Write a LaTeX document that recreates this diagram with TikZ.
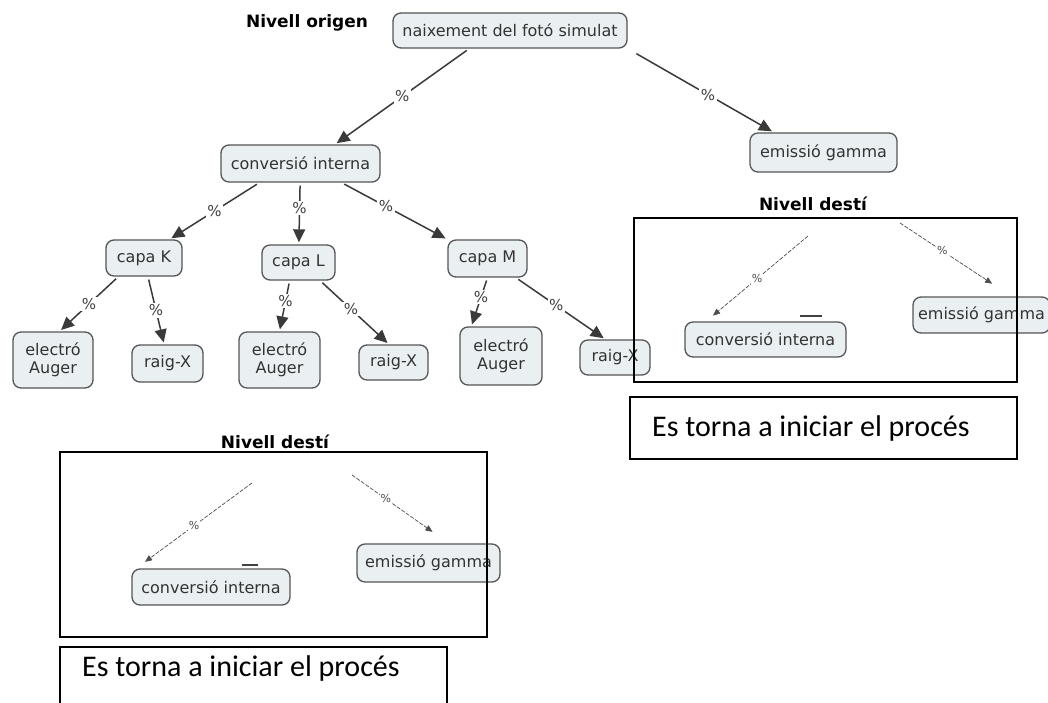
\documentclass[tikz,border=0pt]{standalone}
\usepackage{fontspec}
\newfontfamily\vf{DejaVu Sans}
\newfontfamily\clb{Carlito}
\usetikzlibrary{arrows.meta}
\definecolor{boxfill}{HTML}{EAF0F2}
\definecolor{boxline}{HTML}{555555}
\definecolor{edgecol}{HTML}{3A3A3A}
\tikzset{
  cmap/.style={draw=boxline, fill=boxfill, line width=1.3pt, rounded corners=8pt, inner sep=0pt, align=center, font=\vf\fontsize{16}{18}\selectfont, text=black!80},
  conn/.style={draw=edgecol, line width=1.5pt, -{Triangle[length=13pt,width=12pt]}, shorten <=3pt, shorten >=2pt},
  pct/.style={fill=white, inner sep=1.5pt, font=\vf\fontsize{15}{16}\selectfont, text=black!75},
  thinconn/.style={draw=black!70, line width=0.7pt, dash pattern=on 4pt off 1.5pt, -{Triangle[length=7pt,width=6pt]}},
  thinpct/.style={fill=white, inner sep=1pt, font=\vf\fontsize{11}{12}\selectfont, text=black!70},
  frame/.style={draw=black, line width=1.4pt, inner sep=0pt},
  lvltitle/.style={font=\vf\bfseries\fontsize{17}{19}\selectfont},
  restart/.style={font=\clb\fontsize{30}{33}\selectfont, anchor=base west, inner sep=0pt},
  tick/.style={line width=1.5pt, black!75}
}
\begin{document}
\begin{tikzpicture}[x=1pt,y=-1pt]
\useasboundingbox (0,0) rectangle (1048,703);
% titles
\node[lvltitle] (orig) at (307,23) {Nivell origen};
% main tree nodes
\node[cmap, minimum width=234pt, minimum height=35pt] (naix) at (510,30.5) {naixement del fotó simulat};
\node[cmap, minimum width=159pt, minimum height=37pt] (conv) at (300.5,163.5) {conversió interna};
\node[cmap, minimum width=147pt, minimum height=39pt] (gam) at (823.5,152.5) {emissió gamma};
\node[cmap, minimum width=76pt, minimum height=36pt] (capaK) at (144,258) {capa K};
\node[cmap, minimum width=73pt, minimum height=35pt] (capaL) at (298.5,262.5) {capa L};
\node[cmap, minimum width=79pt, minimum height=37pt] (capaM) at (487.5,258.5) {capa M};
\node[cmap, minimum width=80pt, minimum height=56pt] (augK) at (53,360) {electró\\Auger};
\node[cmap, minimum width=71pt, minimum height=37pt] (rxK) at (167.5,363.5) {raig-X};
\node[cmap, minimum width=81pt, minimum height=56pt] (augL) at (279.5,360) {electró\\Auger};
\node[cmap, minimum width=69pt, minimum height=35pt] (rxL) at (393.5,362.5) {raig-X};
\node[cmap, minimum width=82pt, minimum height=58pt] (augM) at (501,356) {electró\\Auger};
\node[cmap, minimum width=70pt, minimum height=35pt] (rxM) at (615,357.5) {raig-X};
% main connectors
\draw[conn] (naix.204.8) -- node[pct]{\%} (conv.29.7);
\draw[conn, shorten <=10pt] (naix.south east) -- node[pct, pos=0.55]{\%} (gam.158.4);
\draw[conn] (conv.205.7) -- node[pct]{\%} (capaK.36.9);
\draw[conn] (conv) -- node[pct, pos=0.41]{\%} (capaL);
\draw[conn] (conv.335.7) -- node[pct, pos=0.42]{\%} (capaM.north west);
\draw[conn] (capaK.216.9) -- node[pct]{\%} (augK.77.7);
\draw[conn] (capaK.282.5) -- node[pct]{\%} (rxK.100.7);
\draw[conn] (capaL.244.1) -- node[pct, pos=0.4]{\%} (augL.north);
\draw[conn] (capaL.320) -- node[pct, pos=0.45]{\%} (rxL.104.4);
\draw[conn] (capaM.south) -- node[pct, pos=0.4]{\%} (augM.135);
\draw[conn] (capaM.326.5) -- node[pct, pos=0.45]{\%} (rxM.118);
% right destination level
\node[lvltitle] (destR) at (813,204) {Nivell destí};
\node[cmap, minimum width=161pt, minimum height=35pt] (convR) at (765.5,339.5) {conversió interna};
\node[cmap, minimum width=137pt, minimum height=36pt] (gamR) at (981.5,315) {emissió gamma};
\coordinate (rs1) at (808,236);
\coordinate (rs2) at (900,223);
\draw[thinconn, shorten >=9pt] (rs1) -- node[thinpct]{\%} (convR.163.6);
\draw[thinconn, shorten >=23pt] (rs2) -- node[thinpct, pos=0.38]{\%} (gamR.32.7);
\draw[tick] (800,316) -- (822,316);
\node[frame, minimum width=383pt, minimum height=164pt] (frameR) at (825.5,300) {};
\node[frame, minimum width=387pt, minimum height=62pt] (boxR) at (823.5,428) {};
\node[restart] (txtR) at (652,436) {Es torna a iniciar el procés};
% left destination level
\node[lvltitle] (destL) at (275,442) {Nivell destí};
\node[cmap, minimum width=158pt, minimum height=36pt] (convL) at (211,587) {conversió interna};
\node[cmap, minimum width=143pt, minimum height=38pt] (gamL) at (428.5,563) {emissió gamma};
\coordinate (ls1) at (252,483);
\coordinate (ls2) at (352,475);
\draw[thinconn, shorten >=11pt] (ls1) -- node[thinpct]{\%} (convL.166.7);
\draw[thinconn, shorten >=20pt] (ls2) -- node[thinpct, pos=0.35]{\%} (gamL.44.3);
\draw[tick] (242,565) -- (258,565);
\node[frame, minimum width=427pt, minimum height=185pt] (frameL) at (273.5,544.5) {};
\node[frame, minimum width=387pt, minimum height=62pt] (boxL) at (253.5,678) {};
\node[restart] (txtL) at (82,676) {Es torna a iniciar el procés};
\end{tikzpicture}
\end{document}
